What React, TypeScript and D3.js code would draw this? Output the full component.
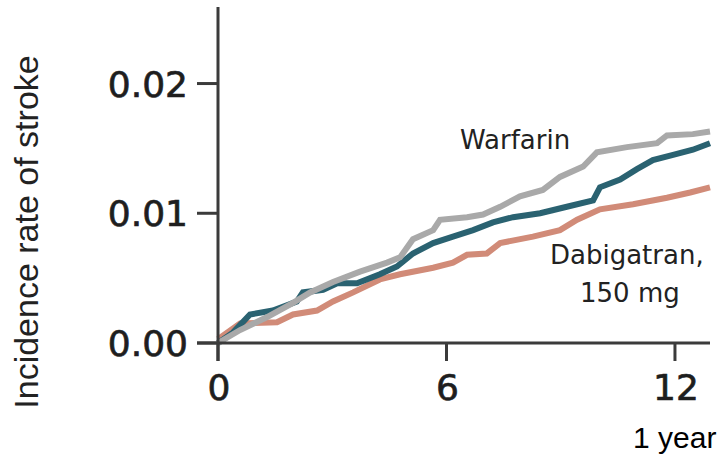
import * as d3 from "d3";

// months since randomisation (x) and cumulative incidence (y)
const warfarinT = [0, 0.58, 1.29, 1.97, 2.42, 3.02, 3.73, 4.44, 4.78, 5.12, 5.65, 5.83, 6.54, 6.96, 7.41, 7.93, 8.53, 8.98, 9.59, 9.95, 10.74, 11.53, 11.79, 12.47, 12.92];
const warfarinV = [0, 0.001, 0.002, 0.0031, 0.0039, 0.0047, 0.0055, 0.0062, 0.0066, 0.008, 0.0087, 0.0095, 0.0097, 0.0099, 0.0105, 0.0113, 0.0118, 0.0128, 0.0136, 0.0147, 0.0151, 0.0154, 0.016, 0.0161, 0.0163];

const midT = [0, 0.39, 0.84, 1.44, 2.07, 2.23, 2.76, 3.13, 3.65, 4.25, 4.7, 5.12, 5.65, 6.17, 6.7, 7.22, 7.75, 8.46, 9.16, 9.85, 10.03, 10.56, 11.0, 11.42, 11.95, 12.47, 12.92];
const midV = [0, 0.0008, 0.0022, 0.0025, 0.0032, 0.0039, 0.0041, 0.0046, 0.0046, 0.0053, 0.0059, 0.0069, 0.0077, 0.0082, 0.0087, 0.0093, 0.0097, 0.01, 0.0105, 0.011, 0.012, 0.0126, 0.0134, 0.0141, 0.0145, 0.0149, 0.0154];

const dabiT = [0, 0.58, 1.55, 1.97, 2.6, 3.02, 3.55, 4.25, 4.78, 5.65, 6.17, 6.54, 7.06, 7.41, 8.27, 8.98, 9.43, 10.03, 10.9, 11.79, 12.4, 12.92];
const dabiV = [0.0003, 0.0015, 0.0016, 0.0022, 0.0025, 0.0032, 0.0039, 0.0049, 0.0053, 0.0058, 0.0062, 0.0068, 0.0069, 0.0077, 0.0082, 0.0087, 0.0095, 0.0103, 0.0107, 0.0112, 0.0116, 0.012];

const xTicks = [0, 6, 12];
const yTicks = [0, 0.01, 0.02];

const W = 721;
const H = 462;

const x = d3.scaleLinear().domain([0, 12.92]).range([218, 710]);
const y = d3.scaleLinear().domain([0, 0.0259]).range([343, 7]);

const line = d3
  .line<[number, number]>()
  .x((d) => x(d[0]))
  .y((d) => y(d[1]))
  .curve(d3.curveLinear);

const zip = (t: number[], v: number[]) => t.map((d, i) => [d, v[i]] as [number, number]);

const series = [
  { key: "dabi", pts: zip(dabiT, dabiV), color: "#d18b78" },
  { key: "mid", pts: zip(midT, midV), color: "#2a6271" },
  { key: "warf", pts: zip(warfarinT, warfarinV), color: "#a9a9a9" },
];

const tickFont = "DejaVu Sans, sans-serif";
const axisColor = "#3b3b3b";
const fmt = d3.format(".2f");

export default function App() {
  return (
    <svg
      width={W}
      height={H}
      style={{ position: "absolute", left: 0, top: 0, background: "#fff" }}
    >
      {series.map((s) => (
        <path
          key={s.key}
          d={line(s.pts) || ""}
          fill="none"
          stroke={s.color}
          strokeWidth={6}
          strokeLinejoin="miter"
        />
      ))}

      {/* axes */}
      <line x1={x(0)} x2={x(0)} y1={y(0.0259)} y2={y(0) + 18} stroke={axisColor} strokeWidth={3} />
      <line x1={x(0) - 21} x2={x(12.92)} y1={y(0)} y2={y(0)} stroke={axisColor} strokeWidth={3} />

      {yTicks.map((t) => (
        <g key={t}>
          <line x1={x(0) - 21} x2={x(0)} y1={y(t)} y2={y(t)} stroke={axisColor} strokeWidth={3} />
          <text
            x={188}
            y={y(t) + 13}
            textAnchor="end"
            fontFamily={tickFont}
            fontSize={36}
            fill="#1e1e1e"
            stroke="#1e1e1e"
            strokeWidth={0.7}
          >
            {fmt(t)}
          </text>
        </g>
      ))}

      {xTicks.map((t) => (
        <g key={t}>
          <line x1={x(t)} x2={x(t)} y1={y(0)} y2={y(0) + 18} stroke={axisColor} strokeWidth={3} />
          <text
            x={x(t) + 1}
            y={400}
            textAnchor="middle"
            fontFamily={tickFont}
            fontSize={36}
            fill="#1e1e1e"
            stroke="#1e1e1e"
            strokeWidth={0.7}
          >
            {t}
          </text>
        </g>
      ))}

      {/* series labels */}
      <text x={460} y={149} fontFamily={tickFont} fontSize={26} fill="#222">
        Warfarin
      </text>
      <text x={550} y={264} fontFamily={tickFont} fontSize={26} fill="#222">
        Dabigatran,
      </text>
      <text x={580} y={302} fontFamily={tickFont} fontSize={26} fill="#222">
        150 mg
      </text>

      <text
        transform="translate(38,232) rotate(-90)"
        textAnchor="middle"
        fontFamily="Liberation Sans, Arial, sans-serif"
        fontSize={34}
        fill="#222"
      >
        Incidence rate of stroke
      </text>
      <text x={633} y={448} fontFamily="Liberation Sans, Arial, sans-serif" fontSize={30} fill="#000">
        1 year
      </text>
    </svg>
  );
}
